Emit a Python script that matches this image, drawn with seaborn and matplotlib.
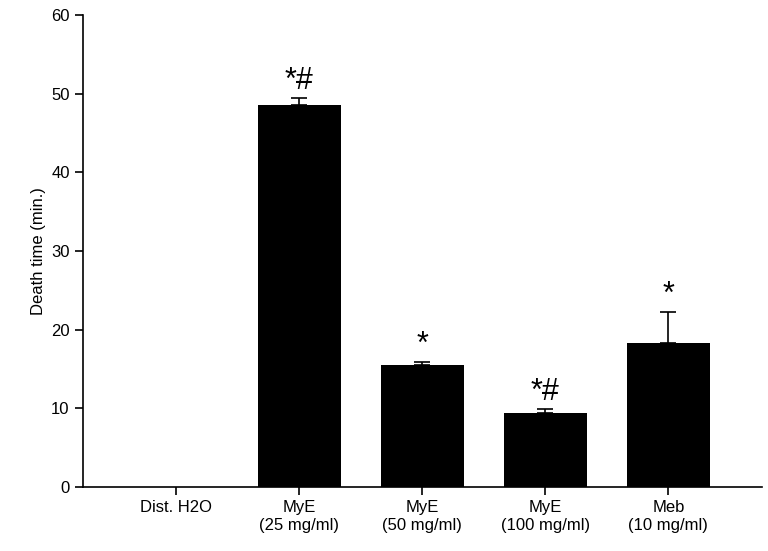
import matplotlib
matplotlib.use("Agg")
import matplotlib.pyplot as plt
import seaborn as sns
import pandas as pd

plt.rcParams["font.family"] = "Liberation Sans"

categories = ["Dist. H2O", "MyE\n(25 mg/ml)", "MyE\n(50 mg/ml)", "MyE\n(100 mg/ml)", "Meb\n(10 mg/ml)"]
values = [0, 48.5, 15.5, 9.4, 18.3]
errors = [0, 0.9, 0.4, 0.5, 3.9]
marks = ["", "*#", "*", "*#", "*"]

df = pd.DataFrame({"cat": categories, "val": values})
fig = plt.figure(figsize=(7.68, 5.51), dpi=100)
ax = fig.add_axes([0.108, 0.116, 0.884, 0.857])
sns.barplot(data=df, x="cat", y="val", color="black", width=0.67, ax=ax, errorbar=None, saturation=1)
for i, (v, e, m) in enumerate(zip(values, errors, marks)):
    if e > 0:
        ax.errorbar(i, v, yerr=[[0], [e]], color="black", capsize=6, lw=1.2, capthick=1.2)
    if m:
        ax.text(i, v + e + 0.3, m, ha="center", va="bottom", fontsize=22)
ax.set_ylim(0, 60)
ax.set_xlim(-0.76, 4.76)
ax.set_xlabel("")
ax.set_ylabel("Death time (min.)", fontsize=12)
ax.tick_params(labelsize=12, length=6, width=1.2)
for s in ["left", "bottom"]:
    ax.spines[s].set_linewidth(1.2)
for s in ["top", "right"]:
    ax.spines[s].set_visible(False)
fig.savefig("out.png", dpi=100)
